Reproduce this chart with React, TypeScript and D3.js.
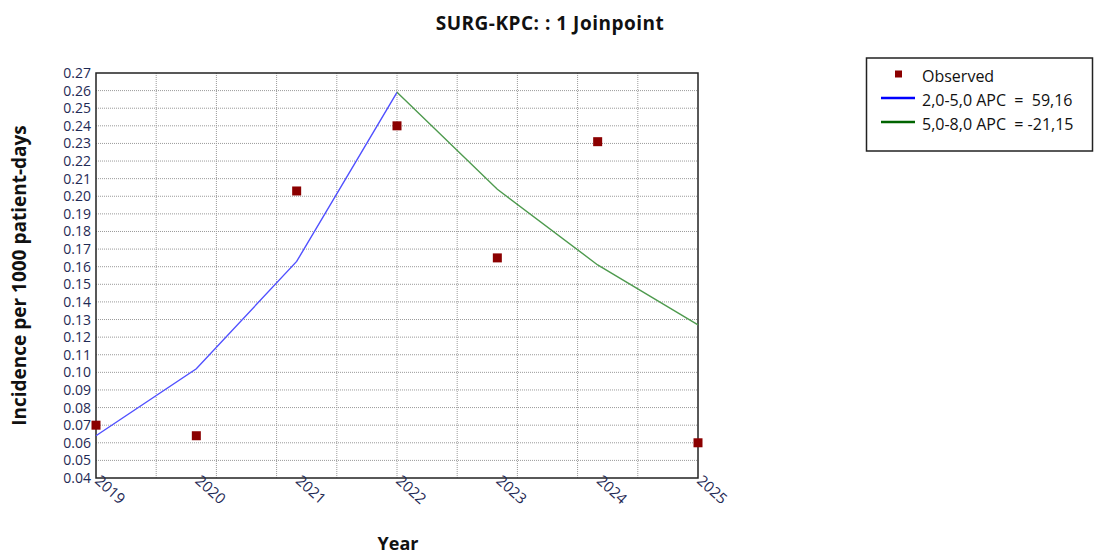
import React from "react";
import * as d3 from "d3";

const yearLabels = ["2019", "2020", "2021", "2022", "2023", "2024", "2025"];
const yearX = [2, 3, 4, 5, 6, 7, 8];
const observed = [0.070, 0.064, 0.203, 0.240, 0.165, 0.231, 0.060];
const seg1X = [2, 3, 4, 5];
const seg1Y = [0.064, 0.102, 0.163, 0.259];
const seg2X = [5, 6, 7, 8];
const seg2Y = [0.259, 0.204, 0.161, 0.127];
const yTicks = [0.04, 0.05, 0.06, 0.07, 0.08, 0.09, 0.10, 0.11, 0.12, 0.13, 0.14, 0.15, 0.16, 0.17, 0.18, 0.19, 0.20, 0.21, 0.22, 0.23, 0.24, 0.25, 0.26, 0.27];
const xGrid = [2.6, 3.2, 3.8, 4.4, 5.0, 5.6, 6.2, 6.8, 7.4];
const legendLabels = ["Observed", "2,0-5,0 APC  =  59,16", "5,0-8,0 APC  = -21,15"];

const W = 1095, H = 556;
const L = 96, R = 698, T = 73, B = 478;

export default function App() {
  const x = d3.scaleLinear().domain([2, 8]).range([L, R]);
  const y = d3.scaleLinear().domain([0.04, 0.27]).range([B, T]);
  const line = d3.line<[number, number]>().x(d => x(d[0])).y(d => y(d[1]));
  const s1 = seg1X.map((v, i) => [v, seg1Y[i]] as [number, number]);
  const s2 = seg2X.map((v, i) => [v, seg2Y[i]] as [number, number]);
  const font = "'Open Sans', 'Noto Sans', sans-serif";
  return (
    <svg width={W} height={H} style={{ position: "absolute", left: 0, top: 0, background: "#fff" }} fontFamily={font}>
      <rect x={0} y={0} width={W} height={H} fill="#fff" />
      <text x={550} y={30} textAnchor="middle" fontSize={19} fontWeight="bold" letterSpacing={0.5} fill="#111">SURG-KPC: : 1 Joinpoint</text>
      {/* grid */}
      {yTicks.slice(1, -1).map(t => (
        <line key={"gy" + t} x1={L} x2={R} y1={y(t)} y2={y(t)} stroke="#9a9a9a" strokeWidth={1} strokeDasharray="1,1" />
      ))}
      {xGrid.map(t => (
        <line key={"gx" + t} x1={x(t)} x2={x(t)} y1={T} y2={B} stroke="#9a9a9a" strokeWidth={1} strokeDasharray="1,1" />
      ))}
      <rect x={L} y={T} width={R - L} height={B - T} fill="none" stroke="#222" strokeWidth={1.5} />
      {/* y tick labels */}
      {yTicks.map(t => (
        <text key={"yl" + t} x={L - 5} y={y(t) + 5} textAnchor="end" fontSize={14} fill="#1f2a55">{t.toFixed(2)}</text>
      ))}
      {/* x tick labels */}
      {yearX.map((v, i) => (
        <text key={"xl" + v} transform={`translate(${x(v) - 2},${B + 4}) rotate(42)`} fontSize={15} fill="#1f2a55">{yearLabels[i]}</text>
      ))}
      <path d={line(s1) || ""} fill="none" stroke="#5050ff" strokeWidth={1.4} />
      <path d={line(s2) || ""} fill="none" stroke="#4e9a4e" strokeWidth={1.4} />
      {observed.map((v, i) => (
        <rect key={"o" + i} x={x(yearX[i]) - 4.5} y={y(v) - 4.5} width={9} height={9} fill="#8b0000" />
      ))}
      <text x={398} y={550} textAnchor="middle" fontSize={18} fontWeight="bold" fill="#111">Year</text>
      <text transform={`translate(26,${(T + B) / 2}) rotate(-90)`} textAnchor="middle" fontSize={19} fontWeight="bold" fill="#111">Incidence per 1000 patient-days</text>
      {/* legend */}
      <rect x={866.5} y={58} width={226} height={93} fill="#fff" stroke="#222" strokeWidth={1.5} />
      <rect x={895} y={70.5} width={7} height={7} fill="#8b0000" />
      <line x1={881} x2={915} y1={98} y2={98} stroke="#0000ff" strokeWidth={2.5} />
      <line x1={881} x2={915} y1={122} y2={122} stroke="#006400" strokeWidth={2.5} />
      {legendLabels.map((s, i) => (
        <text key={"lg" + i} x={922} y={82 + i * 24} fontSize={16} fill="#111" style={{ whiteSpace: "pre" }}>{s}</text>
      ))}
    </svg>
  );
}
